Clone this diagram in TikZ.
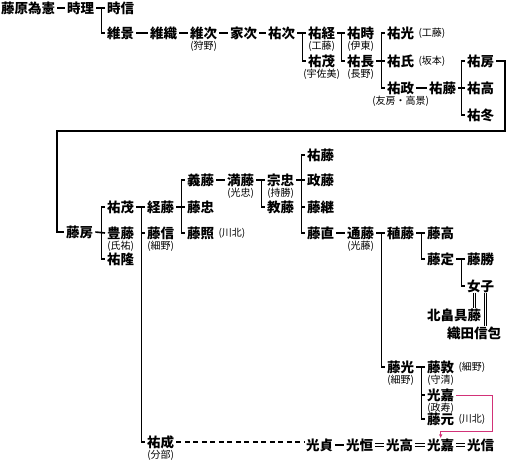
\documentclass[tikz,border=0pt]{standalone}
\usepackage{fontspec}
\newfontfamily\jp{Noto Sans CJK JP}
\usetikzlibrary{arrows.meta,positioning}
\definecolor{linkpink}{RGB}{210,50,120}

\begin{document}
\begin{tikzpicture}[x=1pt, y=-1pt,
  nm/.style={font=\jp\bfseries\fontsize{13.5}{14}\selectfont, inner xsep=2pt, inner ysep=0pt, anchor=west, xshift=-2pt},
  note/.style={font=\jp\fontsize{10}{10}\selectfont, inner sep=0pt},
  link/.style={line width=1.6pt},
  dbl/.style={double, double distance=1.4pt, line width=0.9pt},
  redirect/.style={linkpink, line width=0.9pt, -{Latex[length=4pt,width=3.5pt]}}]
  \useasboundingbox (0,0) rectangle (508,466);

  % head line
  \node[nm] (a0) at (1,8) {藤原為憲};
  \node[nm] (a1) at (67,8) {時理};
  \node[nm] (a2) at (107,8) {時信};
  \node[nm] (b1) at (107,33) {維景};
  \node[nm] (b2) at (150,33) {維織};
  \node[nm] (b3) at (190,33) {維次};
  \node[nm] (b4) at (230,33) {家次};
  \node[nm] (b5) at (268,33) {祐次};
  \node[nm] (c1) at (308,33) {祐経};
  \node[nm] (c2) at (308,61) {祐茂};
  \node[nm] (d1) at (347,33) {祐時};
  \node[nm] (d2) at (347,61) {祐長};
  \node[nm] (e1) at (387,33) {祐光};
  \node[nm] (e2) at (387,61) {祐氏};
  \node[nm] (e3) at (387,88) {祐政};
  \node[nm] (f1) at (429,88) {祐藤};
  \node[nm] (g1) at (467,61) {祐房};
  \node[nm] (g2) at (467,88) {祐高};
  \node[nm] (g3) at (467,115) {祐冬};
  \node[note, below=1.5pt of b3] (b3n) {(狩野)};
  \node[note, below=1.5pt of c1] (c1n) {(工藤)};
  \node[note, below=1.5pt of c2] (c2n) {(宇佐美)};
  \node[note, below=1.5pt of d1] (d1n) {(伊東)};
  \node[note, below=1.5pt of d2] (d2n) {(長野)};
  \node[note, right=2pt of e1] (e1n) {(工藤)};
  \node[note, right=2pt of e2] (e2n) {(坂本)};
  \node[note, below=1.5pt of e3] (e3n) {(友房・高景)};

  \draw[link] (a0) -- (a1);
  \draw[link] (a2.west) -- ++(-3.5,0) |- (b1.west);
  \draw[link] (a1.east) -- (a2.west);
  \foreach \u/\v in {b1/b2, b2/b3, b3/b4, b4/b5, b5/c1, c1/d1, e3/f1}
    \draw[link] (\u.east) -- (\v.west);
  \draw[link] (c1.west) -- ++(-3.5,0) |- (c2.west);
  \draw[link] (d1.west) -- ++(-3.5,0) |- (d2.west);
  \draw[link] (e1.west) -- ++(-3.5,0) |- (e3.west);
  \draw[link] (d2.east) -- (e2.west);
  \draw[link] (g1.west) -- ++(-3.5,0) |- (g3.west);
  \draw[link] (f1.east) -- (g2.west);

  % second part
  \node[nm] (h0) at (66,232) {藤房};
  \node[nm] (i1) at (107,207) {祐茂};
  \node[nm] (i2) at (107,233) {豊藤};
  \node[nm] (i3) at (107,259) {祐隆};
  \node[nm] (j1) at (147,207) {経藤};
  \node[nm] (j2) at (147,233) {藤信};
  \node[nm] (j3) at (147,442) {祐成};
  \node[nm] (k1) at (187,180) {義藤};
  \node[nm] (k2) at (187,207) {藤忠};
  \node[nm] (k3) at (187,233) {藤照};
  \node[nm] (l1) at (227,180) {満藤};
  \node[nm] (m1) at (267,180) {宗忠};
  \node[nm] (m2) at (267,207) {教藤};
  \node[nm] (n1) at (307,155) {祐藤};
  \node[nm] (n2) at (307,180) {政藤};
  \node[nm] (n3) at (307,207) {藤継};
  \node[nm] (n4) at (307,233) {藤直};
  \node[nm] (o1) at (347,233) {通藤};
  \node[nm] (p1) at (387,233) {稙藤};
  \node[nm] (p2) at (387,367) {藤光};
  \node[nm] (q1) at (427,233) {藤高};
  \node[nm] (q2) at (427,259) {藤定};
  \node[nm] (r1) at (467,259) {藤勝};
  \node[nm] (r2) at (467,286) {女子};
  \node[nm] (s1) at (427,315) {北畠具藤};
  \node[nm] (s2) at (447,333) {織田信包};
  \node[nm] (t1) at (427,367) {藤敦};
  \node[nm] (t2) at (427,395) {光嘉};
  \node[nm] (t3) at (427,419) {藤元};
  \node[nm] (u1) at (306,445) {光貞};
  \node[nm] (u2) at (346,445) {光恒};
  \node[nm] (u3) at (386,445) {光高};
  \node[nm] (u4) at (427,445) {光嘉};
  \node[nm] (u5) at (467,445) {光信};
  \node[note, below=1.5pt of i2] (i2n) {(氏祐)};
  \node[note, below=1.5pt of j2] (j2n) {(細野)};
  \node[note, below=1.5pt of j3] (j3n) {(分部)};
  \node[note, right=2pt of k3] (k3n) {(川北)};
  \node[note, below=1.5pt of l1] (l1n) {(光忠)};
  \node[note, below=1.5pt of m1] (m1n) {(持勝)};
  \node[note, below=1.5pt of o1] (o1n) {(光藤)};
  \node[note, below=1.5pt of p2] (p2n) {(細野)};
  \node[note, right=2pt of t1] (t1n) {(細野)};
  \node[note, below=1.5pt of t1] (t1m) {(守清)};
  \node[note, below=1.5pt of t2] (t2n) {(政寿)};
  \node[note, right=2pt of t3] (t3n) {(川北)};

  % from 祐房 round to 藤房
  \coordinate (rt) at (505,131);
  \coordinate (lf) at (57,131);
  \draw[link] (g1.east) -| (rt) -- (lf) |- (h0.west);

  \draw[link] (i1.west) -- ++(-3.5,0) |- (i3.west);
  \draw[link] (h0.east) -- (i2.west);
  \draw[link] (j1.west) -- ++(-3.5,0) |- (j3.west);
  \draw[link] (j2.west) -- ++(-3.5,0);
  \draw[link] (k1.west) -- ++(-3.5,0) |- (k3.west);
  \draw[link] (j1.east) -- (k2.west);
  \draw[link] (m1.west) -- ++(-3.5,0) |- (m2.west);
  \draw[link] (n1.west) -- ++(-3.5,0) |- (n4.west);
  \draw[link] (n3.west) -- ++(-3.5,0);
  \draw[link] (m1.east) -- (n2.west);
  \draw[link] (p1.west) -- ++(-3.5,0) |- (p2.west);
  \draw[link] (q1.west) -- ++(-3.5,0) |- (q2.west);
  \draw[link] (r1.west) -- ++(-3.5,0) |- (r2.west);
  \draw[link] (t1.west) -- ++(-3.5,0) |- (t3.west);
  \draw[link] (t2.west) -- ++(-3.5,0);
  \foreach \u/\v in {i1/j1, k1/l1, l1/m1, n4/o1, o1/p1, p1/q1, q2/r1, p2/t1, u1/u2}
    \draw[link] (\u.east) -- (\v.west);

  % marriages
  \draw[dbl] ([xshift=-6pt]r2.south) -- ([xshift=-6pt]r2.south |- s1.north);
  \draw[dbl] ([xshift=5pt]r2.south) -- ([xshift=5pt]r2.south |- s2.north);
  \foreach \u/\v in {u2/u3, u3/u4, u4/u5}
    \draw[dbl] (\u.east) -- (\v.west);

  % line of 祐成
  \draw[link, dash pattern=on 5pt off 3.5pt] (j3.east) -- (j3.east -| u1.west);
  \coordinate (turn) at (492,431);
  \draw[redirect] (t2.east) -| (turn) -| (u4.north);
\end{tikzpicture}
\end{document}
